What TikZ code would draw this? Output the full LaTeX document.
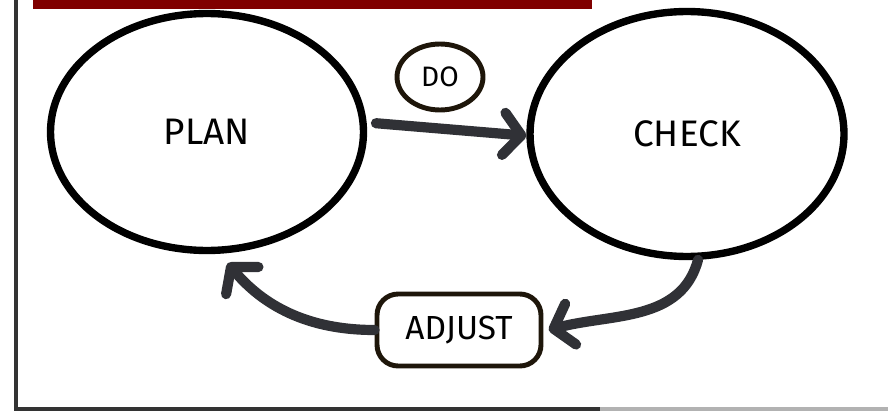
\documentclass[tikz,border=0pt]{standalone}
\usepackage{fontspec}
\setmainfont{Fira Sans}
\usepackage{xcolor}
\usepackage{tikz}
\usetikzlibrary{shapes,arrows.meta}
\definecolor{barred}{RGB}{128,0,0}
\definecolor{flowgray}{RGB}{48,49,54}
\definecolor{tagrim}{RGB}{30,22,10}
\tikzset{ell/.style={ellipse,draw,line width=4.2pt,inner sep=0pt,font=\fontsize{21}{24}\selectfont},
  tag/.style={draw=tagrim,line width=2.8pt,fill=white,inner sep=0pt},
  flow/.style={draw=flowgray,line width=5.8pt,line cap=round}}

\begin{document}
\begin{tikzpicture}[x=0.02cm,y=-0.02cm,>={Straight Barb[length=10pt,width=24pt,line cap=round,line join=round]}]
        \useasboundingbox (0,0) rectangle (888,412);
        \fill [barred] (33,0) rectangle (592,9);
        \draw [line width=2pt,black!80] (16,0) -- (16,409) -- (600,409);
        \draw [line width=2pt,black!30] (600,409) -- (888,409);

        \node[ell,minimum width=6.26cm,minimum height=4.74cm] (p)at (207,132) {PLAN};
        \node[ell,minimum width=6.28cm,minimum height=4.9cm] (c)at (687,134) {CHECK};
        \node[tag,ellipse,minimum width=1.72cm,minimum height=1.32cm,font=\fontsize{16}{18}\selectfont] (d)at (440,77) {DO};
        \node[tag,rectangle,rounded corners=12pt,minimum width=3.28cm,minimum height=1.44cm,font=\fontsize{19}{22}\selectfont] (j)at (459,330) {ADJUST};

        \draw [flow,->] ([xshift=5pt,yshift=5pt]p.east) to [] ([yshift=-1pt]c.west);
        \draw [flow,->] (c.-85) to [out=-105,in=15] ([xshift=3pt]j.east);
        \draw [flow,->,shorten >=7pt] (j.west) to [out=180,in=-50] (p.-84);
    \end{tikzpicture}
\end{document}
